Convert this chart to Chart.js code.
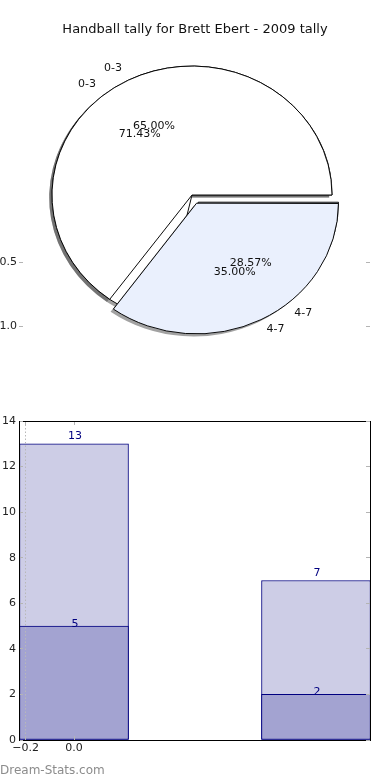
<!DOCTYPE html>
<html lang="en">
<head>
  <meta charset="UTF-8">
  <title>Handball tally for Brett Ebert - 2009 tally</title>
  <script src="https://cdn.jsdelivr.net/npm/chart.js"></script>
  <style type="text/css">
    body, html {
      margin: 0;
      padding: 0;
      width: 390px;
      height: 780px;
      overflow: hidden;
      background-color: #fff;
      font-family: "DejaVu Sans", sans-serif;
    }

    #pie-box {
      position: absolute;
      left: 0;
      top: 0;
      width: 390px;
      height: 360px;
    }

    #bar-box {
      position: absolute;
      left: 0;
      top: 400px;
      width: 390px;
      height: 380px;
    }

    .watermark {
      position: absolute;
      left: 0;
      top: 763px;
      font-size: 12px;
      line-height: 14px;
      color: #8c8c8c;
    }
  </style>
</head>
<body>

  <div id="pie-box"><canvas id="pie-chart"></canvas></div>
  <div id="bar-box"><canvas id="bar-chart"></canvas></div>
  <div class="watermark">Dream-Stats.com</div>

  <script>
    // chart data
    const categories = ['0-3', '4-7'];
    const tallyA = [13, 7];   // big pie / back bars
    const tallyB = [5, 2];    // second pie / front bars
    const barX = [0, 1];
    const xTicks = [-0.2, 0.0];
    const yTicks = [0, 2, 4, 6, 8, 10, 12, 14];
    const pieAxisTicks = [0.5, 1.0];

    Chart.defaults.font.family = '"DejaVu Sans", sans-serif';
    Chart.defaults.font.size = 11;

    // pie geometry (the original axes were not square, so the pie is a bit squashed)
    const PIE_R = 140;
    const PIE_SY = 0.921;
    const PIE_DX = -2.5;
    const PIE_DY = -3;
    const EXPLODE_PX = 10;     // how far the 4-7 slices move out
    const ARC_OFFSET = EXPLODE_PX * 4;  // chart.js v4 divides arc offset by 4
    const SHADOW_DX = -2.8, SHADOW_DY = 2.6;

    const pieBlue = '#eaf0fd';
    const shadowFill = 'rgba(70, 70, 70, 0.5)';
    const tickGrey = '#b4b4b4';

    // chart.js draws clockwise from the top, matplotlib counter-clockwise from the right,
    // so start at 3 o'clock and feed the slices in reverse order
    const pieCats = categories.slice().reverse();

    const pieLayer = {
      id: 'pieLayer',
      beforeDatasetsDraw(chart) {
        const ctx = chart.ctx;
        chart.data.datasets.forEach((ds, i) => {
          chart.getDatasetMeta(i).data.forEach(arc => {
            arc.innerRadius = 0;
            arc.outerRadius = PIE_R;
          });
        });
        const arc0 = chart.getDatasetMeta(0).data[0];
        ctx.save();
        ctx.translate(arc0.x + PIE_DX, arc0.y + PIE_DY);
        ctx.scale(1, PIE_SY);
        ctx.translate(-arc0.x, -arc0.y);
      },
      beforeDatasetDraw(chart, args) {
        const ds = chart.data.datasets[args.index];
        if (!ds.shadow) return;
        chart.ctx.save();
        chart.ctx.translate(SHADOW_DX, SHADOW_DY / PIE_SY);
        chart.ctx.filter = 'blur(0.7px)';
      },
      afterDatasetDraw(chart, args) {
        const ds = chart.data.datasets[args.index];
        if (ds.shadow) chart.ctx.restore();
      },
      afterDatasetsDraw(chart) {
        const ctx = chart.ctx;
        ctx.restore();

        ctx.save();
        ctx.font = '11px "DejaVu Sans", sans-serif';
        ctx.fillStyle = '#111';
        ctx.textBaseline = 'middle';
        chart.data.datasets.forEach((ds, i) => {
          if (ds.shadow) return;
          const total = ds.data.reduce((a, b) => a + b, 0);
          chart.getDatasetMeta(i).data.forEach((arc, j) => {
            const mid = (arc.startAngle + arc.endAngle) / 2;
            const shift = ds.offset[j] ? EXPLODE_PX : 0;
            const at = k => {
              const r = shift + k * PIE_R;
              return [arc.x + PIE_DX + r * Math.cos(mid), arc.y + PIE_DY + r * Math.sin(mid) * PIE_SY];
            };
            const lab = at(1.1);
            ctx.textAlign = Math.cos(mid) > 0 ? 'left' : 'right';
            ctx.fillText(pieCats[j], lab[0], lab[1]);
            const pct = at(0.6);
            ctx.textAlign = 'center';
            ctx.fillText((ds.data[j] / total * 100).toFixed(2) + '%', pct[0], pct[1]);
          });
        });
        ctx.restore();
      }
    };

    const pieAxis = (position) => ({
      type: 'linear',
      position: position,
      reverse: true,
      min: -1.15625,
      max: 1.15625,
      afterBuildTicks: s => { s.ticks = pieAxisTicks.map(v => ({ value: v })); },
      afterFit: s => { s.width = position === 'left' ? 23 : 24; },
      grid: { drawOnChartArea: false, tickLength: 4, tickColor: tickGrey, color: tickGrey },
      border: { display: false },
      ticks: {
        display: position === 'left',
        padding: 2,
        color: '#222',
        callback: v => Number(v).toFixed(1)
      }
    });

    // one pie plus its shadow copy; later datasets are drawn first
    const pieSet = (values) => ({
      data: values.slice().reverse(),
      backgroundColor: [pieBlue, '#ffffff'],
      borderColor: '#000',
      borderWidth: 1,
      offset: [ARC_OFFSET, 0],
      clip: false
    });
    const shadowSet = (values) => ({
      shadow: true,
      data: values.slice().reverse(),
      backgroundColor: shadowFill,
      borderWidth: 0,
      offset: [ARC_OFFSET, 0],
      clip: false
    });

    new Chart(document.getElementById('pie-chart'), {
      type: 'pie',
      data: {
        labels: pieCats,
        datasets: [pieSet(tallyA), shadowSet(tallyA), pieSet(tallyB), shadowSet(tallyB)]
      },
      options: {
        responsive: true,
        maintainAspectRatio: false,
        animation: false,
        rotation: 90,
        layout: { padding: { left: 0, right: 0, top: 0, bottom: 14 } },
        plugins: {
          legend: { display: false },
          tooltip: { enabled: false },
          title: {
            display: true,
            text: 'Handball tally for Brett Ebert - 2009 tally',
            color: '#111',
            font: { size: 13, weight: 'normal' },
            padding: { top: 22, bottom: 12.4 }
          }
        },
        scales: {
          y: pieAxis('left'),
          yRight: pieAxis('right')
        }
      },
      plugins: [pieLayer]
    });

    // value labels above the bars
    const barLabels = {
      id: 'barLabels',
      afterDraw(chart) {
        const ctx = chart.ctx;
        ctx.save();
        ctx.font = '11px "DejaVu Sans", sans-serif';
        ctx.fillStyle = '#000080';
        ctx.textAlign = 'center';
        ctx.textBaseline = 'alphabetic';
        chart.data.datasets.forEach((ds, i) => {
          const lift = i === 1 ? 4.7 : -0.7;
          chart.getDatasetMeta(i).data.forEach((bar, j) => {
            ctx.fillText(String(ds.data[j].y), bar.x + 1, bar.y - lift);
          });
        });
        ctx.restore();
      }
    };

    const xMin = -0.2273, xMax = 1.2231;

    const edgeAxis = (position, isX) => ({
      type: 'linear',
      position: position,
      min: isX ? xMin : 0,
      max: isX ? xMax : 14,
      offset: false,
      afterBuildTicks: s => { s.ticks = (isX ? xTicks : yTicks).map(v => ({ value: v })); },
      afterFit: s => {
        if (isX) s.height = position === 'bottom' ? 40 : 0;
        else s.width = position === 'left' ? 19 : 0;
      },
      grid: {
        z: 1,
        offset: false,
        drawOnChartArea: position === 'bottom',
        color: ctx => (ctx.tick && ctx.tick.value === -0.2) ? '#b8b8b8' : 'rgba(0,0,0,0)',
        tickColor: tickGrey,
        tickLength: -4,
        lineWidth: 1
      },
      border: { display: true, color: '#000', width: 1, dash: [1.5, 2], z: 1 },
      ticks: {
        display: position === 'bottom' || position === 'left',
        padding: isX ? 6 : 7,
        color: '#222',
        callback: v => isX ? (v < 0 ? '\u2212' : '') + Math.abs(v).toFixed(1) : String(v)
      }
    });

    new Chart(document.getElementById('bar-chart'), {
      type: 'bar',
      data: {
        datasets: [
          {
            label: 'front',
            data: barX.map((x, i) => ({ x: x, y: tallyB[i] })),
            backgroundColor: '#a3a3d1',
            borderColor: '#000080',
            borderWidth: 1,
            borderSkipped: false,
            grouped: false,
            barThickness: 109
          },
          {
            label: 'back',
            data: barX.map((x, i) => ({ x: x, y: tallyA[i] })),
            backgroundColor: '#cdcde6',
            borderColor: '#000080',
            borderWidth: 1,
            borderSkipped: false,
            grouped: false,
            barThickness: 109
          }
        ]
      },
      options: {
        responsive: true,
        maintainAspectRatio: false,
        animation: false,
        layout: { padding: { left: 0, right: 20, top: 21, bottom: 0 } },
        plugins: {
          legend: { display: false },
          tooltip: { enabled: false }
        },
        scales: {
          x: edgeAxis('bottom', true),
          xTop: edgeAxis('top', true),
          y: edgeAxis('left', false),
          yRight: edgeAxis('right', false)
        }
      },
      plugins: [barLabels]
    });
  </script>
</body>
</html>
